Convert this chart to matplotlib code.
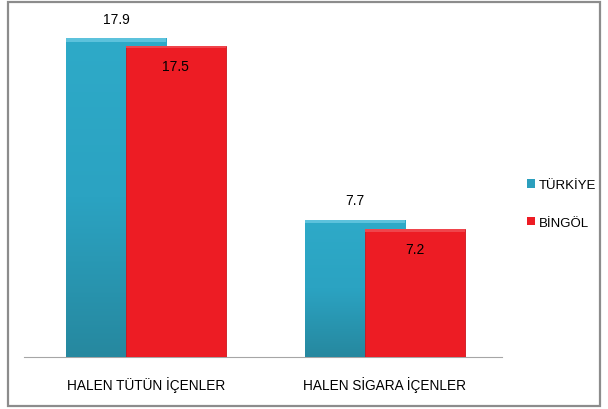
import numpy as np
import matplotlib.pyplot as plt
from matplotlib.patches import Rectangle, Patch
from matplotlib.colors import LinearSegmentedColormap

kategoriler = ["HALEN TÜTÜN İÇENLER", "HALEN SİGARA İÇENLER"]
turkiye = [17.9, 7.7]
bingol = [17.5, 7.2]
seriler = ["TÜRKİYE", "BİNGÖL"]

plt.rcParams['font.family'] = ['Liberation Sans', 'DejaVu Sans']

fig = plt.figure(figsize=(6.08, 4.10), dpi=100)
ax = fig.add_axes([24/608, 1-358/410, 478/608, 356/410])

# ram etrafinda
fig.patches.append(Rectangle((8/608, 3/410), 592/608, 404/410, transform=fig.transFigure,
                             fill=False, edgecolor="#8c8c8c", linewidth=1.6))

x = np.arange(len(kategoriler))
genislik = 0.42
kayma = 0.125

mavi = ax.bar(x - kayma, turkiye, genislik, color="#2b9fbd", edgecolor="#23849c",
              linewidth=0.6, zorder=2)
kirmizi = ax.bar(x + kayma, bingol, genislik, color="#ed1c24", edgecolor="#cc161d",
                 linewidth=0.6, zorder=3)

# mavi cubuklarda renk gecisi
grad = np.linspace(0, 1, 256).reshape(-1, 1)
cmap = LinearSegmentedColormap.from_list("m", ["#26889f", "#2ba3c2", "#2eaac8"])
for b in mavi:
    x0, w, h = b.get_x(), b.get_width(), b.get_height()
    im = ax.imshow(grad, extent=[x0, x0 + w, 0, h], origin="lower", aspect="auto",
                   cmap=cmap, zorder=2)
    im.set_clip_path(b)
    ax.add_patch(Rectangle((x0, h - 0.18), w, 0.18, color="#5cc2dc", zorder=2.5, linewidth=0))
for b in kirmizi:
    x0, w, h = b.get_x(), b.get_width(), b.get_height()
    ax.add_patch(Rectangle((x0, h - 0.15), w, 0.15, color="#f0444b", zorder=3.5, linewidth=0))

for b, v in zip(mavi, turkiye):
    ax.text(b.get_x() + b.get_width()/2, v + 1.1, f"{v}", ha="center", va="center", fontsize=10)
for b, v in zip(kirmizi, bingol):
    ax.text(b.get_x() + b.get_width()/2, v - 1.15, f"{v}", ha="center", va="center",
            fontsize=10, zorder=5)

ax.set_xlim(-0.51, 1.49)
ax.set_ylim(0, 20)
ax.set_xticks(x)
ax.set_xticklabels(kategoriler, fontsize=9.8)
ax.tick_params(axis="x", length=0, pad=14)
ax.set_yticks([])
for s in ["top", "right", "left"]:
    ax.spines[s].set_visible(False)
ax.spines["bottom"].set_color("#a6a6a6")
ax.spines["bottom"].set_zorder(1)

tutamaklar = [Patch(facecolor="#2b9fbd"), Patch(facecolor="#ed1c24")]
fig.legend(tutamaklar, seriler, loc="center left", bbox_to_anchor=(515/608, 1-205/410),
           frameon=False, fontsize=9.5, handlelength=0.6, handleheight=0.6,
           handletextpad=0.3, labelspacing=1.95)

fig.savefig("out.png", dpi=100)
